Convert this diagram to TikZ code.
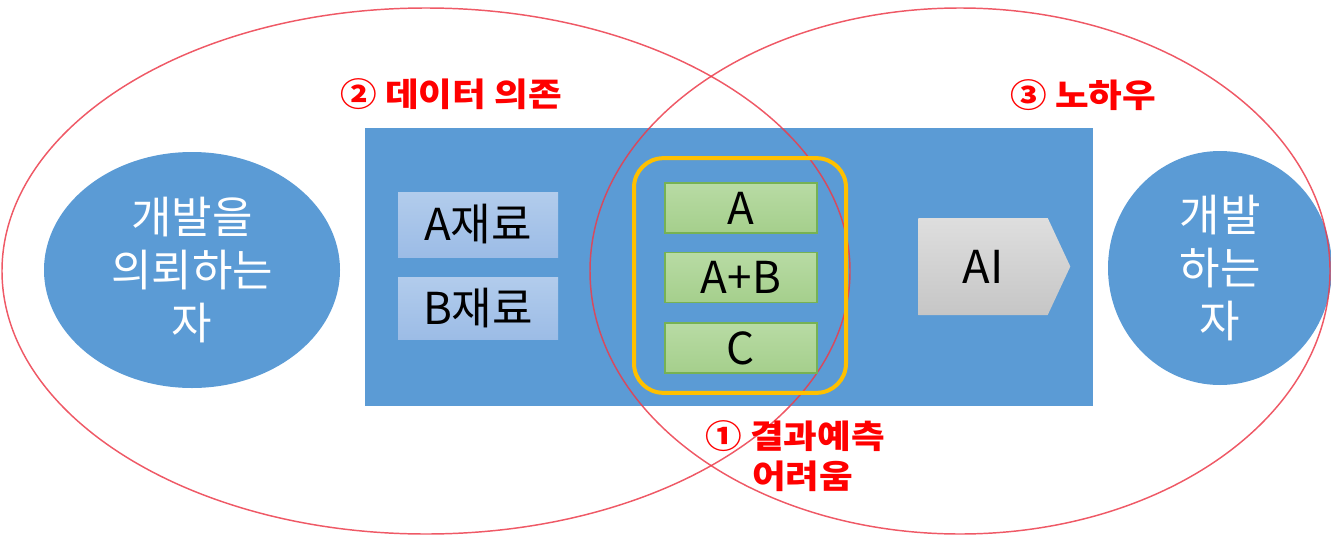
\documentclass[tikz,border=0pt]{standalone}
\usepackage{fontspec}
\setmainfont{Noto Sans CJK KR}
\newfontfamily\redfont[FakeStretch=1.12]{Noto Sans CJK KR}
\usetikzlibrary{shapes.geometric,shapes.symbols}
\definecolor{office}{RGB}{91,155,213}
\definecolor{ringred}{RGB}{236,60,75}
\definecolor{matTop}{RGB}{178,204,236}
\definecolor{matBot}{RGB}{156,188,230}
\definecolor{grTop}{RGB}{184,219,164}
\definecolor{grBot}{RGB}{165,207,140}
\definecolor{grLine}{RGB}{118,178,84}
\definecolor{gold}{RGB}{255,192,0}
\definecolor{labred}{RGB}{255,0,0}
\definecolor{aiTop}{RGB}{222,222,222}
\definecolor{aiBot}{RGB}{198,198,198}
\tikzset{
  bigring/.style={ellipse, draw=ringred, draw opacity=0.85, line width=1.1pt, inner sep=0pt},
  actor/.style={ellipse, fill=office, text=white, inner sep=0pt, align=center,
    font=\fontsize{33}{40}\selectfont},
  panel/.style={rectangle, fill=office, inner sep=0pt},
  matbox/.style={rectangle, top color=matTop, bottom color=matBot, inner sep=0pt,
    minimum width=120pt, font=\fontsize{33}{40}\selectfont},
  gbox/.style={rectangle, top color=grTop, bottom color=grBot, draw=grLine, line width=0.8pt,
    inner sep=0pt, minimum width=114pt, minimum height=37.5pt, font=\fontsize{33}{36}\selectfont},
  group/.style={rectangle, rounded corners=22pt, draw=gold, line width=3pt, inner sep=0pt,
    minimum width=159pt, minimum height=176pt},
  aiarrow/.style={signal, signal to=east, signal pointer angle=130, top color=aiTop,
    bottom color=aiBot, inner sep=0pt, minimum width=114pt, minimum height=72.75pt,
    font=\fontsize{34}{36}\selectfont},
  lab/.style={text=labred, font=\redfont\bfseries\fontsize{24.5}{36}\selectfont, inner sep=0pt, align=left}
}
\begin{document}
\begin{tikzpicture}[x=0.75pt,y=-0.75pt]
\useasboundingbox (0,0) rectangle (1331,539);
% blue shapes
\node[panel, minimum width=546pt, minimum height=208.5pt] (panel) at (729,267) {};
\node[actor, minimum width=222pt, minimum height=177pt] (client) at (192,270) {개발을\\의뢰하는\\자};
\node[actor, minimum width=168pt, minimum height=175.5pt] (dev) at (1220,268) {개발\\하는\\자};
% big rings
\node[bigring, minimum width=636pt, minimum height=394.5pt] (ringL) at (426,271) {};
\node[bigring, minimum width=555pt, minimum height=394.5pt] (ringR) at (960,271) {};
% materials
\node[matbox, minimum height=48.75pt] (matA) at (478,224.5) {A재료};
\node[matbox, minimum height=46.5pt] (matB) at (478,308) {B재료};
% group with results
\node[group] (grp) at (740,275.5) {};
\node[gbox] (rA) at (741,208) {A};
\node[gbox] (rAB) at (741,277.5) {A+B};
\node[gbox] (rC) at (741,348) {C};
% AI arrow
\node[aiarrow] (ai) at (983,266.5) {AI};
% labels
\node[lab, anchor=west] (l2) at (340,94) {② 데이터 의존};
\node[lab, anchor=west] (l3) at (1010,95) {③ 노하우};
\node[lab, anchor=west] (l1a) at (705,436) {① 결과예측};
\node[lab, anchor=west] (l1b) at (752,476) {어려움};
\end{tikzpicture}
\end{document}
